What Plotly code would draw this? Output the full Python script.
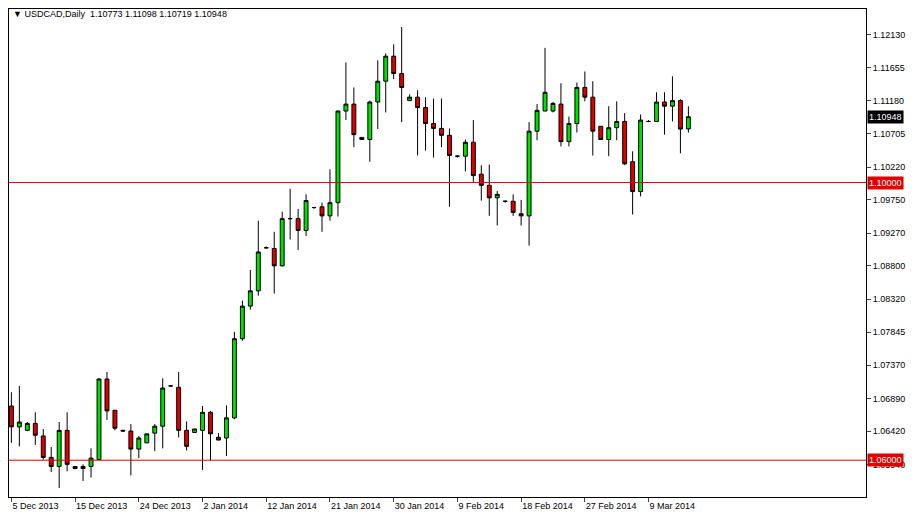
import plotly.graph_objects as go

# USDCAD daily candles, 5 Dec 2013 .. 14 Mar 2014 (broker feed with Sunday bars)
opens = [1.0678, 1.0648, 1.0643, 1.0653, 1.0635, 1.0604, 1.0591, 1.0643, 1.0591, 1.0588,
         1.0591, 1.0601, 1.0717, 1.0672, 1.0643, 1.0642, 1.0616, 1.0625, 1.0639, 1.0649,
         1.0707, 1.0705, 1.0643, 1.0640, 1.0643, 1.0669, 1.0633, 1.0632, 1.0661, 1.0775,
         1.0822, 1.0844, 1.0906, 1.0905, 1.0880, 1.0948, 1.0948, 1.0931, 1.0964, 1.0965,
         1.0952, 1.0971, 1.1103, 1.1113, 1.1065, 1.1062, 1.1116, 1.1146, 1.1182, 1.1157,
         1.1118, 1.1123, 1.1108, 1.1085, 1.1078, 1.1068, 1.1038, 1.1038, 1.1058, 1.1012,
         1.0996, 1.0978, 1.0973, 1.0973, 1.0955, 1.0952, 1.1074, 1.1103, 1.1103, 1.1113,
         1.1059, 1.1085, 1.1137, 1.1123, 1.1081, 1.1062, 1.1079, 1.1088, 1.1030, 1.0987,
         1.1088, 1.1088, 1.1116, 1.1110, 1.1118, 1.10773]
highs = [1.0698, 1.0707, 1.0655, 1.0669, 1.0645, 1.0619, 1.0655, 1.0669, 1.0591, 1.0594,
         1.0617, 1.0718, 1.0727, 1.0672, 1.0644, 1.0652, 1.0635, 1.0638, 1.0652, 1.0718,
         1.0708, 1.0727, 1.0656, 1.0645, 1.0678, 1.0671, 1.0639, 1.0679, 1.0785, 1.0830,
         1.0874, 1.0945, 1.0908, 1.0929, 1.0958, 1.0991, 1.0962, 1.0983, 1.0965, 1.0971,
         1.1019, 1.1104, 1.1173, 1.1137, 1.1065, 1.1118, 1.1176, 1.1186, 1.1199, 1.1224,
         1.1127, 1.1133, 1.1123, 1.1121, 1.1121, 1.1078, 1.1039, 1.1062, 1.1090, 1.1025,
         1.1026, 1.0988, 1.0974, 1.0983, 1.0975, 1.1087, 1.1113, 1.1194, 1.1116, 1.1143,
         1.1095, 1.1144, 1.1160, 1.1146, 1.1081, 1.1110, 1.1117, 1.1100, 1.1045, 1.1098,
         1.1090, 1.1130, 1.1130, 1.1153, 1.1120, 1.11098]
lows = [1.0625, 1.0620, 1.0642, 1.0622, 1.0601, 1.0583, 1.0560, 1.0584, 1.0587, 1.0570,
        1.0575, 1.0601, 1.0658, 1.0643, 1.0641, 1.0578, 1.0603, 1.0625, 1.0613, 1.0617,
        1.0706, 1.0633, 1.0614, 1.0640, 1.0586, 1.0600, 1.0629, 1.0606, 1.0659, 1.0772,
        1.0817, 1.0837, 1.0905, 1.0840, 1.0879, 1.0918, 1.0903, 1.0923, 1.0962, 1.0929,
        1.0945, 1.0951, 1.1090, 1.1051, 1.1062, 1.1030, 1.1077, 1.1101, 1.1149, 1.1087,
        1.1118, 1.1039, 1.1046, 1.1036, 1.1051, 1.0965, 1.1036, 1.1016, 1.1001, 1.0974,
        1.0952, 1.0938, 1.0971, 1.0952, 1.0938, 1.0909, 1.1061, 1.1103, 1.1101, 1.1052,
        1.1052, 1.1072, 1.1117, 1.1039, 1.1062, 1.1038, 1.1061, 1.1025, 1.0954, 1.0980,
        1.1087, 1.1088, 1.1069, 1.1088, 1.1042, 1.10719]
closes = [1.0648, 1.0655, 1.0653, 1.0636, 1.0604, 1.0591, 1.0643, 1.0594, 1.0588, 1.0591,
          1.0603, 1.0717, 1.0671, 1.0646, 1.0642, 1.0616, 1.0632, 1.0638, 1.0649, 1.0704,
          1.0707, 1.0643, 1.0620, 1.0645, 1.0669, 1.0638, 1.0629, 1.0661, 1.0775, 1.0822,
          1.0844, 1.0900, 1.0906, 1.0880, 1.0948, 1.0948, 1.0931, 1.0974, 1.0964, 1.0952,
          1.0971, 1.1103, 1.1113, 1.1069, 1.1062, 1.1116, 1.1146, 1.1182, 1.1157, 1.1137,
          1.1123, 1.1108, 1.1085, 1.1078, 1.1068, 1.1039, 1.1038, 1.1058, 1.1010, 1.0996,
          1.0978, 1.0983, 1.0973, 1.0957, 1.0952, 1.1074, 1.1104, 1.1130, 1.1114, 1.1059,
          1.1085, 1.1137, 1.1123, 1.1074, 1.1062, 1.1079, 1.1088, 1.1027, 1.0987, 1.1090,
          1.1088, 1.1116, 1.1110, 1.1118, 1.1077, 1.10948]

# bar index positions of the date labels
date_ticks = [0, 8, 16, 24, 32, 40, 48, 56, 64, 72, 80]
date_labels = ["5 Dec 2013", "15 Dec 2013", "24 Dec 2013", "2 Jan 2014", "12 Jan 2014",
               "21 Jan 2014", "30 Jan 2014", "9 Feb 2014", "18 Feb 2014", "27 Feb 2014",
               "9 Mar 2014"]
price_ticks = [1.12130, 1.11655, 1.11180, 1.10705, 1.10220, 1.09750, 1.09270, 1.08800,
               1.08320, 1.07845, 1.07370, 1.06890, 1.06420, 1.05940, 1.05460]
levels = [1.10000, 1.06000]

bars = list(range(len(opens)))
fnt = dict(family="Liberation Sans, Arial", size=9, color="black")

fig = go.Figure(go.Candlestick(
    x=bars, open=opens, high=highs, low=lows, close=closes,
    increasing=dict(line=dict(color="black", width=1), fillcolor="#00e000"),
    decreasing=dict(line=dict(color="black", width=1), fillcolor="#dd0000"),
    whiskerwidth=0, showlegend=False, hoverinfo="skip"))

for lv in levels:
    fig.add_hline(y=lv, line=dict(color="#e00000", width=1))
    fig.add_annotation(xref="paper", x=1, y=lv, xanchor="left", showarrow=False,
                       text=f"{lv:.5f}", bgcolor="#e00000", font=dict(fnt, color="white"),
                       borderpad=1, xshift=1)
fig.add_annotation(xref="paper", x=1, y=closes[-1], xanchor="left", showarrow=False,
                   text=f"{closes[-1]:.5f}", bgcolor="black", font=dict(fnt, color="white"),
                   borderpad=1, xshift=1)

fig.add_annotation(xref="paper", yref="paper", x=0, y=1, xanchor="left", yanchor="top",
                   showarrow=False, xshift=2, yshift=2,
                   text="\u25bc USDCAD,Daily  1.10773 1.11098 1.10719 1.10948", font=fnt)

# page body adds an 8px margin, so the figure is a bit smaller than the window
fig.update_layout(
    width=911, height=513, margin=dict(l=1, r=53, t=1, b=24),
    paper_bgcolor="white", plot_bgcolor="white", font=fnt,
    xaxis=dict(range=[-0.3, 107.3], rangeslider=dict(visible=False), showgrid=False,
               tickmode="array", tickvals=date_ticks, ticktext=date_labels,
               tickangle=0, automargin=False,
               ticks="outside", ticklen=4, ticklabelposition="outside right",
               showline=True, linecolor="black", mirror=True, zeroline=False),
    yaxis=dict(range=[1.0547, 1.1250], side="right", showgrid=False, automargin=False,
               tickmode="array", tickvals=price_ticks,
               ticktext=[f"{p:.5f}" for p in price_ticks],
               ticks="outside", ticklen=4, showline=True, linecolor="black",
               mirror=True, zeroline=False),
)

fig.write_html("out.html")
